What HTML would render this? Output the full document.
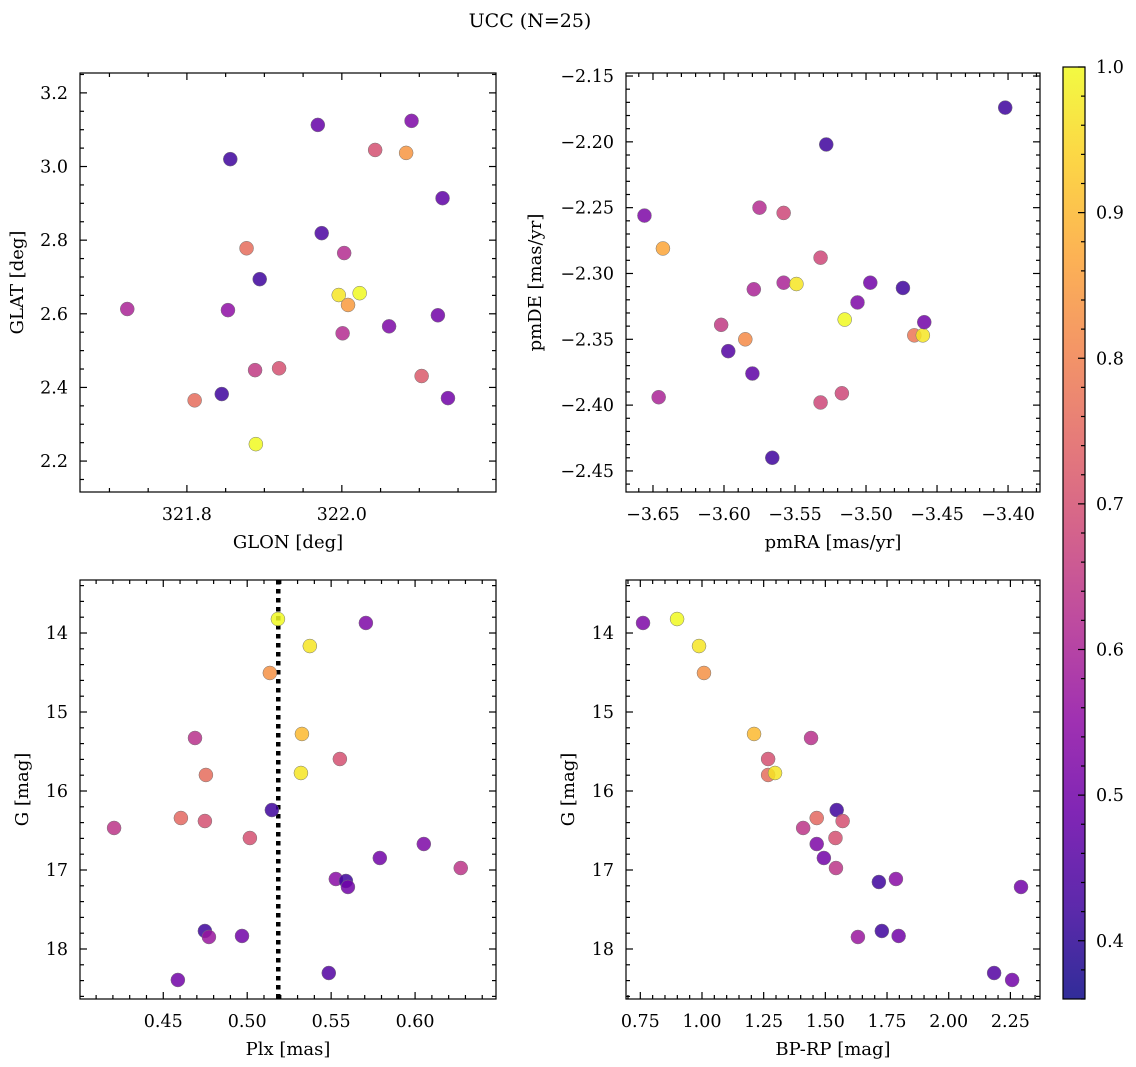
<!DOCTYPE html>
<html><head><meta charset="utf-8"><style>
html,body{margin:0;padding:0;background:#fff;}
svg{display:block;font-family:"DejaVu Serif","Liberation Serif",serif;}
</style></head><body>
<svg id="fig" width="1136" height="1067" viewBox="0 0 1136 1067" xmlns="http://www.w3.org/2000/svg">
<defs>
<linearGradient id="cbgrad" x1="0" y1="1" x2="0" y2="0">
<stop offset="0" stop-color="#0d0887"/><stop offset="0.1" stop-color="#41049d"/><stop offset="0.2" stop-color="#6a00a8"/><stop offset="0.3" stop-color="#8f0da4"/><stop offset="0.4" stop-color="#b12a90"/><stop offset="0.5" stop-color="#cc4778"/><stop offset="0.6" stop-color="#e16462"/><stop offset="0.7" stop-color="#f2844b"/><stop offset="0.8" stop-color="#fca636"/><stop offset="0.9" stop-color="#fcce25"/><stop offset="1" stop-color="#f0f921"/>
</linearGradient>
</defs>
<text x="530" y="27" font-size="19" text-anchor="middle">UCC (N=25)</text>
</svg>
<script>
// Panel 1: GLON vs GLAT
const glonP1 = [321.723,321.856,321.853,321.877,321.894,321.888,321.919,321.810,321.845,321.889,321.969,321.974,322.003,322.001,321.996,322.023,322.008,322.043,322.083,322.090,322.061,322.130,322.124,322.103,322.137];
const glatP1 = [2.613,3.020,2.610,2.778,2.694,2.447,2.452,2.365,2.382,2.246,3.113,2.819,2.765,2.547,2.651,2.656,2.624,3.045,3.037,3.124,2.566,2.914,2.596,2.431,2.371];
const probP1 = [0.60,0.42,0.55,0.76,0.42,0.65,0.70,0.76,0.42,1.0,0.48,0.44,0.62,0.62,0.97,1.0,0.85,0.70,0.84,0.52,0.52,0.47,0.50,0.72,0.50];
// Panel 2: pmRA vs pmDE
const pmraP2 = [-3.656,-3.643,-3.646,-3.602,-3.597,-3.585,-3.580,-3.579,-3.575,-3.558,-3.558,-3.549,-3.566,-3.528,-3.532,-3.532,-3.517,-3.515,-3.506,-3.497,-3.474,-3.466,-3.460,-3.459,-3.402];
const pmdeP2 = [-2.256,-2.281,-2.394,-2.339,-2.359,-2.350,-2.376,-2.312,-2.250,-2.254,-2.307,-2.308,-2.440,-2.202,-2.398,-2.288,-2.391,-2.335,-2.322,-2.307,-2.311,-2.347,-2.347,-2.337,-2.174];
const probP2 = [0.52,0.87,0.60,0.65,0.45,0.82,0.47,0.60,0.62,0.68,0.60,0.97,0.42,0.42,0.68,0.68,0.68,1.0,0.52,0.50,0.42,0.78,0.97,0.50,0.42];
// Panel 3: Plx vs G
const plxP3 = [0.5183,0.5707,0.5373,0.5135,0.4689,0.5326,0.5552,0.4754,0.5320,0.5147,0.4605,0.4748,0.4207,0.5016,0.6052,0.5790,0.6272,0.5528,0.5588,0.5600,0.4748,0.4772,0.4969,0.5486,0.4587];
const gP3 = [13.823,13.873,14.165,14.506,15.329,15.278,15.595,15.797,15.772,16.241,16.342,16.380,16.468,16.595,16.671,16.848,16.975,17.114,17.139,17.215,17.772,17.848,17.835,18.304,18.392];
const probP3 = [1.0,0.52,0.97,0.83,0.63,0.90,0.70,0.76,0.97,0.42,0.75,0.70,0.64,0.70,0.52,0.50,0.64,0.54,0.42,0.50,0.42,0.57,0.50,0.45,0.50];
const plxLine = 0.5185;
// Panel 4: BP-RP vs G
const bprpP4 = [0.761,0.899,0.988,1.008,1.211,1.442,1.268,1.268,1.296,1.546,1.465,1.570,1.410,1.541,1.465,1.494,1.543,1.786,1.717,2.293,1.729,1.632,1.797,2.184,2.257];
const gP4 = [13.873,13.823,14.165,14.506,15.278,15.329,15.595,15.797,15.772,16.241,16.342,16.380,16.468,16.595,16.671,16.848,16.975,17.114,17.152,17.215,17.772,17.848,17.835,18.304,18.392];
const probP4 = [0.52,1.0,0.97,0.83,0.90,0.63,0.70,0.76,0.97,0.42,0.75,0.70,0.64,0.70,0.52,0.50,0.64,0.54,0.42,0.50,0.42,0.57,0.50,0.45,0.50];
// Colorbar
const cbTicks = [0.4,0.5,0.6,0.7,0.8,0.9,1.0];
const cbMin = 0.36, cbMax = 1.0;

const NS = "http://www.w3.org/2000/svg";
const svg = document.getElementById('fig');
const stops = ["#0d0887","#41049d","#6a00a8","#8f0da4","#b12a90","#cc4778","#e16462","#f2844b","#fca636","#fcce25","#f0f921"];
function hx(c){return [parseInt(c.slice(1,3),16),parseInt(c.slice(3,5),16),parseInt(c.slice(5,7),16)];}
function plasma(v){
  let t=(v-cbMin)/(cbMax-cbMin); t=Math.max(0,Math.min(1,t));
  const f=t*10, i=Math.min(9,Math.floor(f)), r=f-i;
  const a=hx(stops[i]), b=hx(stops[i+1]);
  return 'rgb('+a.map((x,k)=>Math.round(x+(b[k]-x)*r)).join(',')+')';
}
function mk(tag, attrs, parent){
  const e=document.createElementNS(NS,tag);
  for(const k in attrs) e.setAttribute(k,attrs[k]);
  (parent||svg).appendChild(e); return e;
}
function fmt(v,d){return (v<0?'\u2212':'')+Math.abs(v).toFixed(d);}

function panel(cfg){
  const g=mk('g',{});
  
  
  const L=cfg.box[0],T=cfg.box[1],R=cfg.box[2],B=cfg.box[3];
  const sx=v=>L+(v-cfg.xd[0])/(cfg.xd[1]-cfg.xd[0])*(R-L);
  const sy=cfg.yinv ? (v=>T+(v-cfg.yd[0])/(cfg.yd[1]-cfg.yd[0])*(B-T)) : (v=>B-(v-cfg.yd[0])/(cfg.yd[1]-cfg.yd[0])*(B-T));
  const tg=mk('g',{stroke:'#000','stroke-width':1.2},g);
  const lo=Math.min(cfg.xd[0],cfg.xd[1]),hi=Math.max(cfg.xd[0],cfg.xd[1]);
  for(let k=Math.ceil(lo/cfg.xmin-1e-6);k*cfg.xmin<=hi+1e-9;k++){
    const v=k*cfg.xmin, x=sx(v);
    const isMaj=Math.abs(v/cfg.xmaj-Math.round(v/cfg.xmaj))<1e-4;
    const len=isMaj?7:4;
    mk('line',{x1:x,y1:B,x2:x,y2:B-len},tg); mk('line',{x1:x,y1:T,x2:x,y2:T+len},tg);
    if(isMaj){const t=mk('text',{x:x,y:B+28,'font-size':17.5,'text-anchor':'middle',stroke:'none'},g);t.textContent=fmt(v,cfg.xdec);
      
      }
  }
  const ylo=Math.min(cfg.yd[0],cfg.yd[1]),yhi=Math.max(cfg.yd[0],cfg.yd[1]);
  for(let k=Math.ceil(ylo/cfg.ymin-1e-6);k*cfg.ymin<=yhi+1e-9;k++){
    const v=k*cfg.ymin, y=sy(v);
    const isMaj=Math.abs(v/cfg.ymaj-Math.round(v/cfg.ymaj))<1e-4;
    const len=isMaj?7:4;
    mk('line',{x1:L,y1:y,x2:L+len,y2:y},tg); mk('line',{x1:R,y1:y,x2:R-len,y2:y},tg);
    if(isMaj){const t=mk('text',{x:L-12,y:y+6,'font-size':17.5,'text-anchor':'end',stroke:'none'},g);t.textContent=fmt(v,cfg.ydec);
      
      }
  }
  if(cfg.vline!==undefined){
    const l=mk('line',{x1:sx(cfg.vline),y1:T,x2:sx(cfg.vline),y2:B,stroke:'#000','stroke-width':4.5,'stroke-dasharray':'4.5 4.5'},g);
    
    
  }
  for(let i=0;i<cfg.xs.length;i++){
    const c=mk('circle',{cx:sx(cfg.xs[i]),cy:sy(cfg.ys[i]),r:7,fill:plasma(cfg.ps[i]),'fill-opacity':0.85,stroke:'#777','stroke-width':0.5},g);
    
    
  }
  const fr=mk('rect',{x:L,y:T,width:R-L,height:B-T,fill:'none',stroke:'#000','stroke-width':1.2},g);
  
  
  const xl=mk('text',{x:(L+R)/2,y:B+56,'font-size':18,'text-anchor':'middle'},g);xl.textContent=cfg.xlab;
  
  
  const yx=cfg.ylabX;
  const yl=mk('text',{x:yx,y:(T+B)/2,'font-size':18,'text-anchor':'middle',transform:'rotate(-90 '+yx+' '+(T+B)/2+')'},g);yl.textContent=cfg.ylab;
  
  
}

panel({name:'glon-glat-panel',box:[80,73,496,492],xd:[321.662,322.199],yd:[2.116,3.254],xmaj:0.2,xmin:0.05,ymaj:0.2,ymin:0.05,xdec:1,ydec:1,xs:glonP1,ys:glatP1,ps:probP1,xlab:'GLON [deg]',ylab:'GLAT [deg]',ylabX:23});
panel({name:'pm-panel',box:[626,73,1040,492],xd:[-3.669,-3.3775],yd:[-2.466,-2.1477],xmaj:0.05,xmin:0.01,ymaj:0.05,ymin:0.01,xdec:2,ydec:2,xs:pmraP2,ys:pmdeP2,ps:probP2,xlab:'pmRA [mas/yr]',ylab:'pmDE [mas/yr]',ylabX:541});
panel({name:'plx-g-panel',box:[80,580,496,999],xd:[0.4004,0.6482],yd:[13.329,18.633],yinv:true,xmaj:0.05,xmin:0.01,ymaj:1,ymin:0.2,xdec:2,ydec:0,xs:plxP3,ys:gP3,ps:probP3,xlab:'Plx [mas]',ylab:'G [mag]',ylabX:28,vline:plxLine});
panel({name:'cmd-panel',box:[626,580,1040,999],xd:[0.692,2.370],yd:[13.329,18.633],yinv:true,xmaj:0.25,xmin:0.05,ymaj:1,ymin:0.2,xdec:2,ydec:0,xs:bprpP4,ys:gP4,ps:probP4,xlab:'BP-RP [mag]',ylab:'G [mag]',ylabX:574});

const cb=mk('g',{});


const cT=67,cB=999,cL=1063,cR=1085;
const cy=v=>cB-(v-cbMin)/(cbMax-cbMin)*(cB-cT);
mk('rect',{x:cL,y:cT,width:cR-cL,height:cB-cT,fill:'url(#cbgrad)','fill-opacity':0.85},cb);
mk('rect',{x:cL,y:cT,width:cR-cL,height:cB-cT,fill:'none',stroke:'#000','stroke-width':1.2},cb);
for(let k=Math.ceil(cbMin/0.02-1e-6);k*0.02<=cbMax+1e-9;k++){
  const v=k*0.02; const y=cy(v);
  const isMaj=Math.abs(v*10-Math.round(v*10))<1e-4;
  mk('line',{x1:cR,y1:y,x2:cR-(isMaj?7:4),y2:y,stroke:'#000','stroke-width':1.2},cb);
}
for(const v of cbTicks){
  const t=mk('text',{x:cR+11,y:cy(v)+6,'font-size':17.5},cb);t.textContent=v.toFixed(1);
  
  
}
</script>
</body></html>
